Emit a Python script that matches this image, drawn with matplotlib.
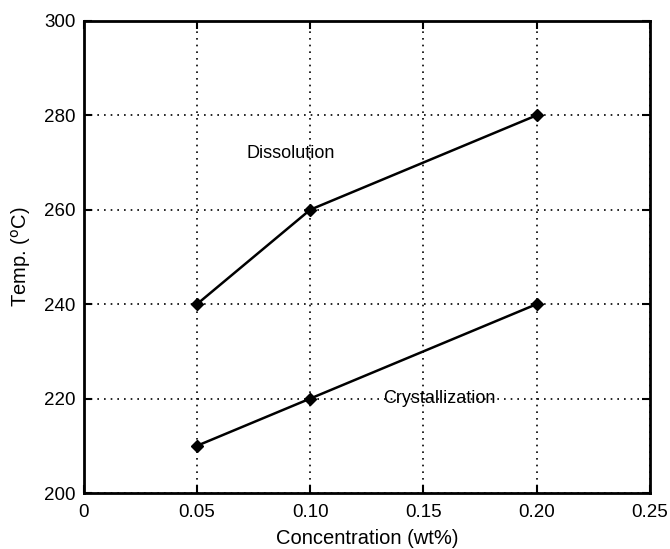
import numpy as np
import matplotlib.pyplot as plt

plt.rcParams['font.family'] = ['Liberation Sans', 'DejaVu Sans']

concentracao = [0.05, 0.10, 0.20]
temp_dissolucao = [240, 260, 280]
temp_cristalizacao = [210, 220, 240]
xticks = [0, 0.05, 0.10, 0.15, 0.20, 0.25]
xtick_labels = ["0", "0.05", "0.10", "0.15", "0.20", "0.25"]
yticks = [200, 220, 240, 260, 280, 300]

fig = plt.figure(figsize=(6.7, 5.49), dpi=100)
ax = fig.add_axes([0.125, 0.102, 0.845, 0.86])

ax.plot(concentracao, temp_dissolucao, "k-", marker="D", markersize=6, linewidth=1.8)
ax.plot(concentracao, temp_cristalizacao, "k-", marker="D", markersize=6, linewidth=1.8)

ax.text(0.072, 272, "Dissolution", fontsize=13, va="center")
ax.text(0.132, 220, "Crystallization", fontsize=13, va="center")

ax.set_xlim(0, 0.25)
ax.set_ylim(200, 300)
ax.set_xticks(xticks)
ax.set_xticklabels(xtick_labels)
ax.set_yticks(yticks)
ax.tick_params(direction="in", top=True, right=True, labelsize=13.5, width=1.5, length=6)
ax.tick_params(axis="x", pad=8)
ax.tick_params(axis="y", pad=6)
ax.grid(True, color="black", linestyle=(0, (1, 3)), linewidth=1.2)
for s in ax.spines.values():
	s.set_linewidth(2)

ax.set_xlabel("Concentration (wt%)", fontsize=14.5, labelpad=6)
ax.set_ylabel("Temp. ($^{\\rm o}$C)", fontsize=14.5, labelpad=8)

fig.savefig("out.png", dpi=100)
